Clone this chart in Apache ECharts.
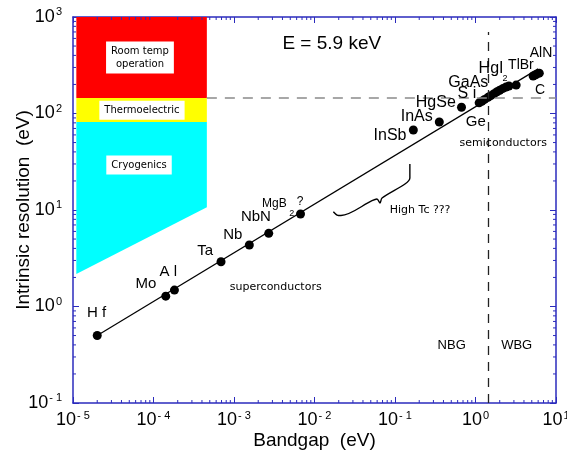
<!DOCTYPE html>
<html><head><meta charset="utf-8">
<script src="https://cdn.jsdelivr.net/npm/echarts@6/dist/echarts.min.js"></script>
<style>html,body{margin:0;padding:0;background:#fff}#c{width:567px;height:460px}</style>
</head><body><div id="c"></div>
<script>
// ---- data ----
const superX = [2.0e-5, 1.42e-4, 1.82e-4, 6.9e-4, 1.55e-3, 2.7e-3, 6.7e-3];
const superY = [0.50, 1.28, 1.48, 2.91, 4.34, 5.73, 9.1];
const semiX = [0.169, 0.355, 0.67, 1.11, 1.2, 1.3, 1.43, 1.55, 1.7, 1.85, 2.0, 2.2, 2.4, 2.6, 3.2, 5.2, 5.6, 6.2];
const semiY = [67.5, 81.6, 116, 129, 134, 140, 147, 153, 160, 168, 174, 182, 188, 193, 197, 245, 252, 262];
const fitX = [2.0e-5, 6.0];
const fitY = [0.5, 290];
const gapBoundary = 1.43;      // NBG / WBG boundary (eV)
const roomTempLevel = 145;     // eV
const thermoLevel = 81.6;      // eV
const regionRightX = 4.6e-4;
const regionLeftX = 1.1e-5;
const roomTempPoly = [[regionLeftX, roomTempLevel], [regionRightX, roomTempLevel], [regionRightX, 1000], [regionLeftX, 1000]];
const thermoPoly = [[regionLeftX, thermoLevel], [regionRightX, thermoLevel], [regionRightX, roomTempLevel], [regionLeftX, roomTempLevel]];
const cryoPoly = [[regionLeftX, 2.17], [regionRightX, 10.7], [regionRightX, thermoLevel], [regionLeftX, thermoLevel]];
const braceX = [0.01714, 0.01905, 0.02133, 0.0518, 0.0597, 0.0652, 0.0690, 0.133, 0.153, 0.153];
const braceY = [9.59, 8.87, 8.77, 12.5, 13.0, 11.8, 13.3, 18.6, 21.5, 30.0];
const vLineTop = 700;
const xTickExp = [-5, -4, -3, -2, -1, 0, 1];
const yTickExp = [-1, 0, 1, 2, 3];
const minorMant = [2, 3, 4, 5, 6, 7, 8, 9];

const annoText = ['H f', 'Mo', 'A l', 'Ta', 'Nb', 'NbN', 'MgB', '2', '?', 'superconductors',
  'InSb', 'InAs', 'HgSe', 'S i', 'GaAs', 'HgI', '2', 'TlBr', 'AlN', 'C', 'Ge', 'semiconductors',
  'E = 5.9 keV', 'High Tc ???', 'NBG', 'WBG', 'Room temp\noperation', 'Thermoelectric', 'Cryogenics'];
const annoX = [1.97e-5, 8.07e-5, 1.53e-4, 4.37e-4, 9.64e-4, 1.87e-3, 3.17e-3, 5.21e-3, 6.61e-3, 3.30e-3,
  0.0867, 0.186, 0.321, 0.783, 0.815, 1.56, 2.32, 3.67, 6.52, 6.32, 1.01, 2.21,
  0.0164, 0.205, 0.506, 3.25, 6.79e-5, 7.19e-5, 6.61e-5];
const annoY = [0.863, 1.70, 2.30, 3.76, 5.51, 8.53, 11.7, 9.25, 12.2, 1.60,
  58.5, 92.7, 131, 159, 208, 289, 232, 318, 421, 175, 82.2, 49.1,
  533, 10, 0.399, 0.399, 380, 108, 29.2];
const annoKind = ['m', 'm', 'm', 'm', 'm', 'm', 'ms', 'sub', 'ms', 'c',
  'l', 'l', 'l', 'l', 'l', 'l', 'sub', 'sm', 'sm', 'sm', 'm', 'c',
  'big', 'c', 'n', 'n', 'box', 'box', 'box'];

// ---- styles ----
const axisBlue = '#2b2bbd';
const helv = 'Liberation Sans';
const comic = 'DejaVu Sans';
const kindStyle = {
  m: { font: '15px ' + helv },
  l: { font: '16px ' + helv },
  ms: { font: '12px ' + helv },
  sm: { font: '14px ' + helv },
  sub: { font: '9px ' + helv },
  big: { font: '19px ' + helv },
  n: { font: '13px ' + helv },
  c: { font: '11px ' + comic },
  box: { font: '10px ' + comic, backgroundColor: '#fff', padding: [3, 5, 3, 5], lineHeight: 13 }
};

const minorX = [];
xTickExp.slice(0, -1).forEach(e => minorMant.forEach(m => minorX.push(m * Math.pow(10, e))));
const minorY = [];
yTickExp.slice(0, -1).forEach(e => minorMant.forEach(m => minorY.push(m * Math.pow(10, e))));

const xMin = Math.pow(10, xTickExp[0]), xMax = Math.pow(10, xTickExp[xTickExp.length - 1]);
const yMin = Math.pow(10, yTickExp[0]), yMax = Math.pow(10, yTickExp[yTickExp.length - 1]);

function powLabel(v) {
  const e = Math.round(Math.log10(v));
  return '{b|10}{s|' + (e < 0 ? '- ' + (-e) : e) + '}';
}
const labelRich = {
  b: { fontSize: 18, fontFamily: helv, color: '#000', lineHeight: 21 },
  s: { fontSize: 11, fontFamily: helv, color: '#000', verticalAlign: 'top', padding: [0, 0, 0, 1] }
};
const axisCommon = {
  type: 'log', logBase: 10,
  axisLine: { show: true, onZero: false, lineStyle: { color: axisBlue, width: 1.5 } },
  axisTick: { show: true, inside: true, length: 6, lineStyle: { color: axisBlue, width: 1 } },
  splitLine: { show: false }, minorTick: { show: false }
};

function polySeries(poly, color) {
  return {
    type: 'custom', coordinateSystem: 'cartesian2d', silent: true, z: 1,
    data: poly,
    renderItem: (params, api) => {
      if (params.dataIndex !== 0) return null;
      return { type: 'polygon', shape: { points: poly.map(p => api.coord(p)) }, style: { fill: color } };
    }
  };
}

const chart = echarts.init(document.getElementById('c'), null, { renderer: 'canvas' });
chart.setOption({
  animation: false,
  backgroundColor: '#fff',
  grid: { left: 73, right: 11, top: 17, bottom: 57, containLabel: false, outerBoundsMode: 'none' },
  xAxis: [
    Object.assign({}, axisCommon, {
      min: xMin, max: xMax, position: 'bottom',
      axisLabel: { formatter: powLabel, rich: labelRich, margin: 7 },
      name: 'Bandgap  (eV)', nameLocation: 'middle', nameGap: 28, nameMoveOverlap: false,
      nameTextStyle: { fontSize: 19, fontFamily: helv, color: '#000' }
    }),
    Object.assign({}, axisCommon, { min: xMin, max: xMax, position: 'top', axisLabel: { show: false } })
  ],
  yAxis: [
    Object.assign({}, axisCommon, {
      min: yMin, max: yMax, position: 'left',
      axisLabel: { formatter: powLabel, rich: labelRich, margin: 11 },
      name: 'Intrinsic resolution  (eV)', nameLocation: 'middle', nameGap: 40, nameMoveOverlap: false,
      nameTextStyle: { fontSize: 19, fontFamily: helv, color: '#000' }
    }),
    Object.assign({}, axisCommon, { min: yMin, max: yMax, position: 'right', axisLabel: { show: false } })
  ],
  series: [
    polySeries(roomTempPoly, '#ff0000'),
    polySeries(thermoPoly, '#ffff00'),
    polySeries(cryoPoly, '#00ffff'),
    { // minor x ticks (bottom and top)
      type: 'custom', coordinateSystem: 'cartesian2d', silent: true, z: 5,
      data: minorX.map(v => [v, yMin]),
      renderItem: (params, api) => {
        const v = api.value(0);
        const b = api.coord([v, yMin]), t = api.coord([v, yMax]);
        const st = { stroke: axisBlue, lineWidth: 1 };
        return { type: 'group', children: [
          { type: 'line', shape: { x1: b[0], y1: b[1], x2: b[0], y2: b[1] - 3 }, style: st },
          { type: 'line', shape: { x1: t[0], y1: t[1], x2: t[0], y2: t[1] + 3 }, style: st }
        ] };
      }
    },
    { // minor y ticks (left and right)
      type: 'custom', coordinateSystem: 'cartesian2d', silent: true, z: 5,
      data: minorY.map(v => [xMin, v]),
      renderItem: (params, api) => {
        const v = api.value(1);
        const l = api.coord([xMin, v]), r = api.coord([xMax, v]);
        const st = { stroke: axisBlue, lineWidth: 1 };
        return { type: 'group', children: [
          { type: 'line', shape: { x1: l[0], y1: l[1], x2: l[0] + 3, y2: l[1] }, style: st },
          { type: 'line', shape: { x1: r[0], y1: r[1], x2: r[0] - 3, y2: r[1] }, style: st }
        ] };
      }
    },
    {
      type: 'line', name: 'fit', z: 3, silent: true,
      data: fitX.map((x, i) => [x, fitY[i]]),
      showSymbol: false, symbol: 'none',
      lineStyle: { color: '#000', width: 1.2 },
      markLine: {
        silent: true, symbol: ['none', 'none'], label: { show: false },
        data: [
          [{ coord: [gapBoundary, yMin], lineStyle: { color: '#222', width: 1.3, type: [9, 7] } },
           { coord: [gapBoundary, vLineTop] }],
          [{ coord: [regionRightX, roomTempLevel], lineStyle: { color: '#8a8a8a', width: 1.5, type: [10, 8] } },
           { coord: [xMax, roomTempLevel] }]
        ]
      }
    },
    {
      type: 'line', name: 'brace', z: 3, silent: true,
      data: braceX.map((x, i) => [x, braceY[i]]),
      showSymbol: false, symbol: 'none', smooth: 0.3,
      lineStyle: { color: '#000', width: 1.4 }
    },
    {
      type: 'scatter', name: 'superconductors', z: 4,
      data: superX.map((x, i) => [x, superY[i]]),
      symbolSize: 9, itemStyle: { color: '#000', opacity: 1 }
    },
    {
      type: 'scatter', name: 'semiconductors', z: 4,
      data: semiX.map((x, i) => [x, semiY[i]]),
      symbolSize: 9, itemStyle: { color: '#000', opacity: 1 }
    },
    {
      type: 'custom', coordinateSystem: 'cartesian2d', silent: true, z: 6,
      data: annoX.map((x, i) => [x, annoY[i]]),
      renderItem: (params, api) => {
        const i = params.dataIndex;
        const p = api.coord([annoX[i], annoY[i]]);
        const ks = kindStyle[annoKind[i]];
        return {
          type: 'text', x: p[0], y: p[1],
          style: Object.assign({ text: annoText[i], fill: '#000', align: 'center', verticalAlign: 'middle' }, ks)
        };
      }
    }
  ]
});
</script></body></html>
